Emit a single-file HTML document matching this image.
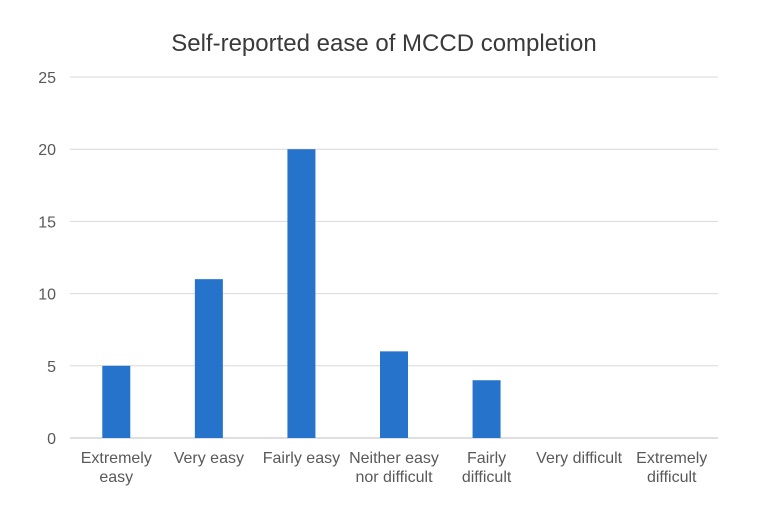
<!DOCTYPE html>
<html><head><meta charset="utf-8"><style>
body{margin:0;background:#fff;}
svg{display:block;font-family:"Liberation Sans",Arial,sans-serif;}
</style></head><body>
<svg width="760" height="523" viewBox="0 0 760 523">
<rect x="0" y="0" width="760" height="523" fill="#fff"/>
<text x="384" y="51" text-anchor="middle" font-size="24" fill="#3a3a3a">Self-reported ease of MCCD completion</text>
<g id="grid"></g><g id="bars"></g><g id="xlabels"></g>
</svg>
<script>
const categories=[["Extremely","easy"],["Very easy"],["Fairly easy"],["Neither easy","nor difficult"],["Fairly","difficult"],["Very difficult"],["Extremely","difficult"]];
const values=[5,11,20,6,4,0,0];
const ticks=[0,5,10,15,20,25];
const NS="http://www.w3.org/2000/svg";
const x0=70,x1=718,y0=438,yTop=77,maxV=25;
const y=v=>y0-(y0-yTop)*v/maxV;
const step=(x1-x0)/categories.length;
const xc=i=>x0+step*(i+0.5);
const grid=document.getElementById('grid');
ticks.forEach(t=>{
 const l=document.createElementNS(NS,'line');
 l.setAttribute('x1',x0);l.setAttribute('x2',x1);l.setAttribute('y1',y(t));l.setAttribute('y2',y(t));
 l.setAttribute('stroke',t===0?'#bfbfbf':'#d9d9d9');l.setAttribute('stroke-width','1');
 
 
 grid.appendChild(l);
 const tx=document.createElementNS(NS,'text');
 tx.setAttribute('x',56);tx.setAttribute('y',y(t)+6);tx.setAttribute('text-anchor','end');
 tx.setAttribute('font-size','16');tx.setAttribute('fill','#595959');tx.textContent=t;
 
 
 grid.appendChild(tx);
});
const bars=document.getElementById('bars');
values.forEach((v,i)=>{
 if(v<=0)return;
 const r=document.createElementNS(NS,'rect');
 r.setAttribute('x',xc(i)-14);r.setAttribute('width',28);
 r.setAttribute('y',y(v));r.setAttribute('height',y0-y(v));r.setAttribute('fill','#2673cc');
 
 
 bars.appendChild(r);
});
const xl=document.getElementById('xlabels');
categories.forEach((c,i)=>{
 c.forEach((line,j)=>{
  const t=document.createElementNS(NS,'text');
  t.setAttribute('x',xc(i));t.setAttribute('y',463+j*19);t.setAttribute('text-anchor','middle');
  t.setAttribute('font-size','16');t.setAttribute('fill','#595959');t.textContent=line;
  
  
  xl.appendChild(t);
 });
});
</script>
</body></html>
